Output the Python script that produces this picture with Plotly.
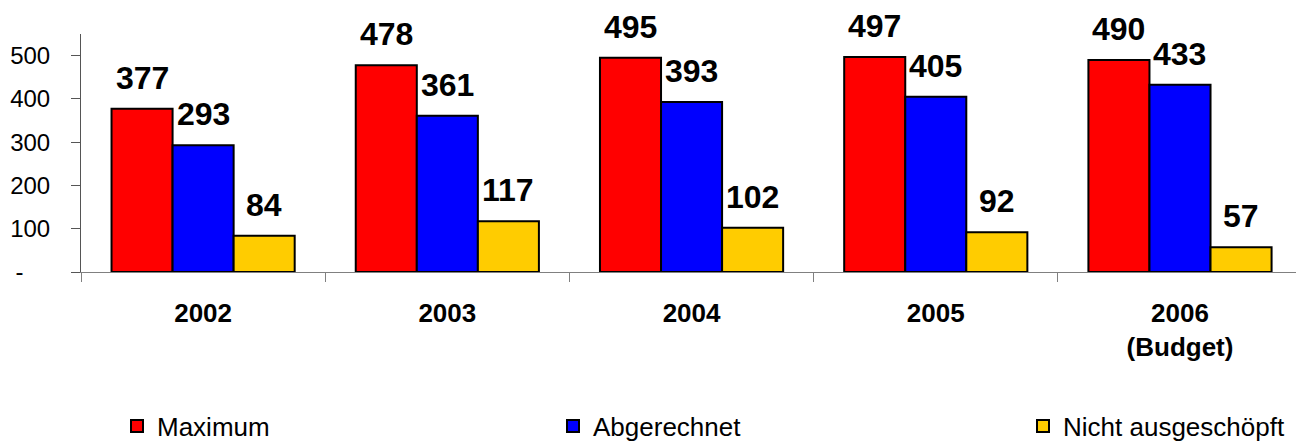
import plotly.graph_objects as go

categories = ["2002", "2003", "2004", "2005", "2006<br>(Budget)"]
series_names = ["Maximum", "Abgerechnet", "Nicht ausgeschöpft"]
maximum = [377, 478, 495, 497, 490]
abgerechnet = [293, 361, 393, 405, 433]
nicht_ausgeschoepft = [84, 117, 102, 92, 57]
colors = ["#FF0000", "#0000FF", "#FFCC00"]
y_tickvals = [0, 100, 200, 300, 400, 500]
y_ticktext = ["-\u00a0\u00a0\u00a0\u00a0", "100", "200", "300", "400", "500"]

W, H = 1296, 444
ml, mr, mt, mb = 81, 0, 34, 172
bargap = 0.25
xrange_ = [-0.5, 4.475]
FONT = "Liberation Sans, Arial, sans-serif"

legend_ids = ["legend", "legend2", "legend3"]
legend_x_px = [117, 553, 1023]

fig = go.Figure()
all_series = [maximum, abgerechnet, nicht_ausgeschoepft]
for name, vals, col, lid in zip(series_names, all_series, colors, legend_ids):
    fig.add_trace(go.Bar(
        x=list(range(len(categories))), y=vals, name=name, legend=lid,
        marker=dict(color=col, line=dict(color="black", width=2)),
    ))

plot_w = W - ml - mr
cat_px = plot_w / (xrange_[1] - xrange_[0])
bar_px = cat_px * (1 - bargap) / 3
for i, vals in enumerate(all_series):
    for j, v in enumerate(vals):
        fig.add_annotation(
            x=j, y=v, text=f"<b>{v}</b>", showarrow=False,
            xref="x", yref="y", yanchor="bottom",
            xshift=(i - 1) * bar_px, yshift=11,
            font=dict(family=FONT, size=32, color="black"),
        )

legend_common = dict(
    orientation="h", xref="container", yref="container",
    xanchor="left", yanchor="middle", y=(H - 426) / H,
    font=dict(family=FONT, size=26, color="black"),
    bgcolor="rgba(0,0,0,0)",
)

fig.update_layout(
    template="none",
    width=W, height=H,
    margin=dict(l=ml, r=mr, t=mt, b=mb, pad=0, autoexpand=False),
    paper_bgcolor="white", plot_bgcolor="white",
    barmode="group", bargap=bargap, bargroupgap=0,
    font=dict(family=FONT, size=24, color="black"),
    showlegend=True,
    legend=dict(legend_common, x=legend_x_px[0] / W),
    legend2=dict(legend_common, x=legend_x_px[1] / W),
    legend3=dict(legend_common, x=legend_x_px[2] / W),
    xaxis=dict(
        range=xrange_,
        tickmode="array",
        tickvals=list(range(len(categories))),
        ticktext=[f"<b>{c}</b>" for c in categories],
        showline=True, linecolor="#808080", linewidth=1,
        ticks="", showgrid=False, zeroline=False,
        tickfont=dict(family=FONT, size=26, color="black"),
        ticklabelstandoff=18, automargin=False,
    ),
    xaxis2=dict(
        overlaying="x", range=xrange_,
        tickmode="array",
        tickvals=[k - 0.5 for k in range(len(categories) + 1)],
        showticklabels=False, ticks="outside", ticklen=9,
        tickcolor="#808080", showgrid=False, zeroline=False,
        showline=False, automargin=False,
    ),
    yaxis=dict(
        range=[0, 550],
        tickvals=y_tickvals, ticktext=y_ticktext,
        showline=True, linecolor="#555555", linewidth=1,
        ticks="outside", ticklen=9, tickcolor="#555555",
        tickfont=dict(family=FONT, size=24, color="black"),
        ticklabelstandoff=16,
        showgrid=False, zeroline=False, automargin=False,
    ),
)
# invisible trace so that the boundary ticks on xaxis2 are drawn
fig.add_trace(go.Scatter(x=[None], y=[None], xaxis="x2", showlegend=False,
                         hoverinfo="skip"))

fig.write_html("out.html")
